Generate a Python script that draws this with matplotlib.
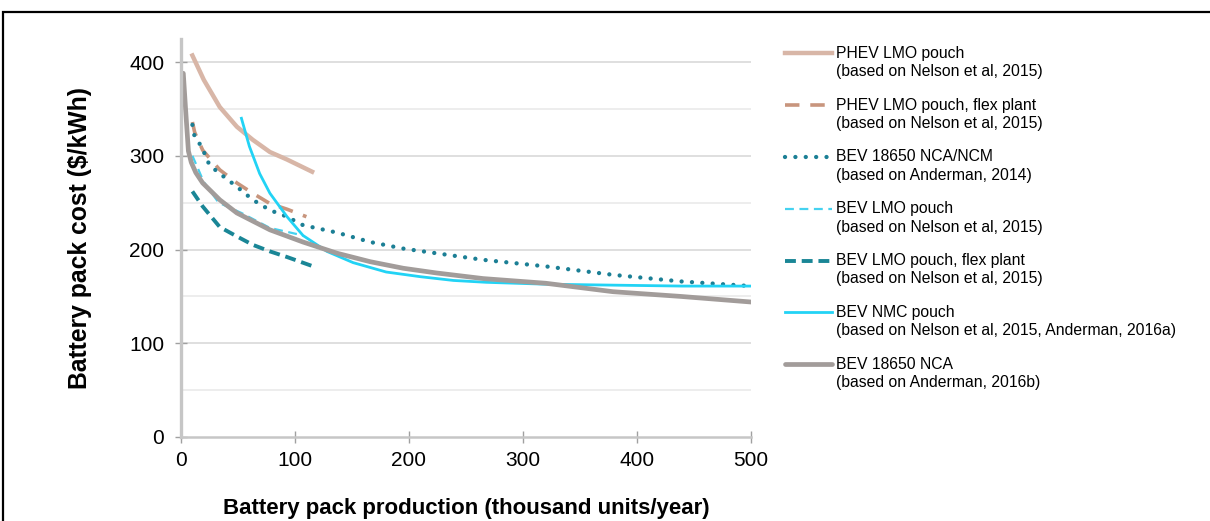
import matplotlib
matplotlib.use("Agg")
import matplotlib.pyplot as plt
from matplotlib.lines import Line2D
from matplotlib.patches import Rectangle

plt.rcParams["font.family"] = ["Liberation Sans", "DejaVu Sans"]

# -------------------------------------------------------------
# Data (production in thousand units/year, cost in $/kWh)
# -------------------------------------------------------------
phev_x = [10, 20, 34, 49, 63, 78, 93, 115]
phev_y = [407, 381, 352, 331, 317, 304, 296, 283]

phev_flex_x = [10, 12, 19, 34, 49, 63, 78, 93, 110]
phev_flex_y = [336, 325, 306, 285, 271, 260, 249, 243, 235]

nca_ncm_x = [10, 12, 18, 25, 34, 49, 63, 78, 93, 107, 137, 166, 195, 224, 265, 320, 379, 438, 500]
nca_ncm_y = [333, 320, 310, 290, 281, 267, 253, 242, 235, 226, 218, 208, 201, 196, 189, 182, 173, 166, 161]

lmo_x = [10, 20, 33, 53, 78, 107]
lmo_y = [300, 272, 250, 239, 223, 215]

lmo_flex_x = [10, 19, 34, 49, 63, 78, 93, 116]
lmo_flex_y = [262, 246, 224, 214, 205, 198, 192, 182]

nmc_x = [53, 60, 69, 78, 93, 107, 128, 151, 180, 210, 239, 268, 320, 379, 440, 500]
nmc_y = [340, 310, 281, 260, 235, 215, 198, 186, 176, 171, 167, 165, 163, 162, 161, 161]

nca_x = [2, 4, 6.5, 9, 13, 19, 34, 49, 78, 107, 137, 166, 195, 224, 265, 320, 379, 438, 500]
nca_y = [388, 350, 305, 293, 282, 271, 253, 239, 221, 208, 196, 187, 180, 175, 169, 164, 155, 150, 144]

series = [
    ("PHEV LMO pouch", "(based on Nelson et al, 2015)", phev_x, phev_y,
     dict(color="#d8b6a7", lw=3.2, ls="-")),
    ("PHEV LMO pouch, flex plant", "(based on Nelson et al, 2015)", phev_flex_x, phev_flex_y,
     dict(color="#c8957d", lw=2.6, ls=(0, (4, 3)))),
    ("BEV 18650 NCA/NCM", "(based on Anderman, 2014)", nca_ncm_x, nca_ncm_y,
     dict(color="#1b7f95", lw=3.1, ls=(0, (0.01, 2.4)), dash_capstyle="round")),
    ("BEV LMO pouch", "(based on Nelson et al, 2015)", lmo_x, lmo_y,
     dict(color="#45d2f0", lw=1.6, ls=(0, (4, 2.5)))),
    ("BEV LMO pouch, flex plant", "(based on Nelson et al, 2015)", lmo_flex_x, lmo_flex_y,
     dict(color="#1a8696", lw=2.8, ls=(0, (2.8, 1.5)))),
    ("BEV NMC pouch", "(based on Nelson et al, 2015, Anderman, 2016a)", nmc_x, nmc_y,
     dict(color="#22d3f5", lw=2.0, ls="-")),
    ("BEV 18650 NCA", "(based on Anderman, 2016b)", nca_x, nca_y,
     dict(color="#a29c9a", lw=3.4, ls="-", solid_capstyle="round")),
]

W, H = 1210, 521
fig = plt.figure(figsize=(W / 100, H / 100), dpi=100)
ax = fig.add_axes([181 / W, 1 - 437 / H, 570 / W, (437 - 38.6) / H])

# gridlines every 50, majors slightly darker
for v in range(50, 450, 50):
    ax.axhline(v, color="#dcdcdc" if v % 100 == 0 else "#ececec", lw=1.3, zorder=0)

for name, src, xs, ys, style in series:
    ax.plot(xs, ys, **style)

ax.set_xlim(0, 500)
ax.set_ylim(0, 425)
ax.set_xticks(range(0, 501, 100))
ax.set_yticks(range(0, 401, 100))
ax.tick_params(axis="both", labelsize=15, color="#a0a0a0", length=5, width=1)
ax.tick_params(axis="y", direction="inout", length=8, pad=8)
ax.tick_params(axis="x", direction="inout", length=8, pad=6)

for s in ["top", "right"]:
    ax.spines[s].set_visible(False)
ax.spines["left"].set_color("#c6c6c6")
ax.spines["left"].set_linewidth(2.4)
ax.spines["bottom"].set_color("#c6c6c6")
ax.spines["bottom"].set_linewidth(1.8)

ax.set_xlabel("Battery pack production (thousand units/year)", fontsize=16,
              fontweight="bold", labelpad=20)
ax.set_ylabel("Battery pack cost ($/kWh)", fontsize=17.8, fontweight="bold", labelpad=27)

# -------------------------------------------------------------
# Legend built by hand so handles line up with the first text line
# -------------------------------------------------------------
y0, step = 53.3, 51.8
for i, (name, src, xs, ys, style) in enumerate(series):
    yy = 1 - (y0 + i * step) / H
    fig.add_artist(Line2D([785 / W, 832 / W], [yy, yy], transform=fig.transFigure, **style))
    fig.text(836 / W, yy, name, fontsize=11.3, va="center", ha="left")
    fig.text(836 / W, yy - 18.5 / H, src, fontsize=11.3, va="center", ha="left")

# outer frame
fig.add_artist(Rectangle((3 / W, -0.1), 1.2, 1.1 - 12 / H, transform=fig.transFigure,
                         fill=False, ec="black", lw=1.6))

fig.savefig("out.png", dpi=100)
